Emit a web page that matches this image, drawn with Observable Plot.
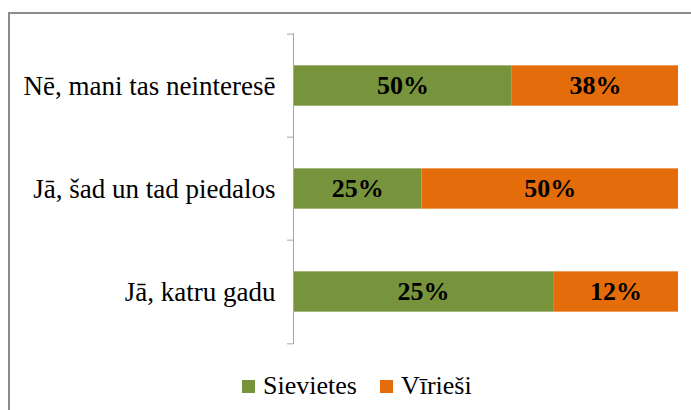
<!DOCTYPE html>
<html>
<head>
<meta charset="utf-8">
<script src="https://cdn.jsdelivr.net/npm/d3@7"></script>
<script src="https://cdn.jsdelivr.net/npm/@observablehq/plot@0.6"></script>
</head>
<body style="margin:0;padding:0;background:#fff;overflow:hidden;width:691px;height:410px;">
<div id="frame" style="position:absolute;left:8px;top:12px;width:720px;height:430px;border:2px solid #8c8c8c;box-sizing:border-box;"></div>
<div id="chart" style="position:absolute;left:0;top:0;"></div>
<div id="legend" style="position:absolute;left:242px;top:371px;font-family:'Liberation Serif';font-size:26px;line-height:29px;color:#000;display:flex;align-items:flex-start;white-space:nowrap;"></div>
<script>
const categories = ["Nē, mani tas neinteresē", "Jā, šad un tad piedalos", "Jā, katru gadu"];
const series = ["Sievietes", "Vīrieši"];
const sievietes = [50, 25, 25];
const viriesi = [38, 50, 12];
const colors = ["#77933C", "#E46C0A"];

const FONT = "Liberation Serif";

const data = [];
categories.forEach((c, i) => {
  data.push({cat: c, series: series[0], value: sievietes[i]});
  data.push({cat: c, series: series[1], value: viriesi[i]});
});

const marginTop = 33, marginBottom = 16, height = 360;
const bandwidth = (height - marginTop - marginBottom) / categories.length;
const tickLen = 6 / 385;

const chart = Plot.plot({
  width: 691,
  height,
  marginLeft: 293,
  marginRight: 13,
  marginTop,
  marginBottom,
  style: {fontFamily: FONT, background: "transparent", overflow: "visible"},
  x: {domain: [0, 1], axis: null},
  y: {domain: categories, padding: 0, axis: null},
  color: {domain: series, range: colors},
  marks: [
    Plot.barX(data, Plot.stackX({x: "value", y: "cat", fill: "series", offset: "normalize", insetTop: (bandwidth - 41) / 2, insetBottom: (bandwidth - 41) / 2})),
    Plot.text(data, Plot.stackX({x: "value", y: "cat", z: "series", offset: "normalize", text: d => d.value + "%", fontSize: 26, fontWeight: "bold", fontFamily: FONT, fill: "#000"})),
    Plot.ruleX([0], {stroke: "#a6a6a6", strokeWidth: 1}),
    Plot.ruleY(categories, {y: d => d, x1: -tickLen, x2: 0, dy: -bandwidth / 2, stroke: "#a6a6a6"}),
    Plot.ruleY(categories.slice(-1), {y: d => d, x1: -tickLen, x2: 0, dy: bandwidth / 2, stroke: "#a6a6a6"}),
    Plot.axisY({tickSize: 0, tickPadding: 18, fontSize: 27, fontFamily: FONT, fill: "#000", label: null})
  ]
});
chart.querySelectorAll("text").forEach(t => t.setAttribute("font-family", FONT));
document.getElementById("chart").appendChild(chart);

const legend = document.getElementById("legend");
series.forEach((s, i) => {
  const item = document.createElement("span");
  item.style.cssText = "display:flex;align-items:flex-start;margin-right:" + (i === 0 ? 23 : 0) + "px;";
  const sw = document.createElement("span");
  sw.style.cssText = "display:inline-block;width:13px;height:13px;margin-top:9px;margin-right:8px;background:" + colors[i] + ";";
  item.appendChild(sw);
  item.appendChild(document.createTextNode(s));
  legend.appendChild(item);
});
</script>
</body>
</html>
